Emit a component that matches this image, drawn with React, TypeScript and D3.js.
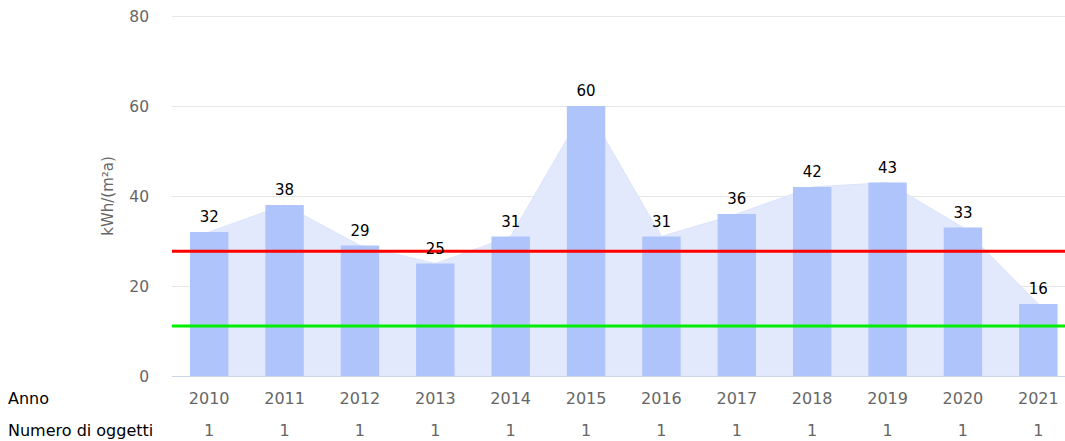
import React, { useEffect, useRef } from 'react';
import * as d3 from 'd3';

const years = ['2010', '2011', '2012', '2013', '2014', '2015', '2016', '2017', '2018', '2019', '2020', '2021'];
const values = [32, 38, 29, 25, 31, 60, 31, 36, 42, 43, 33, 16];
const objectCounts = [1, 1, 1, 1, 1, 1, 1, 1, 1, 1, 1, 1];
const yTicks = [0, 20, 40, 60, 80];
const redLimit = 27.7;
const greenLimit = 11.1;

const App: React.FC = () => {
  const svgRef = useRef<SVGSVGElement | null>(null);

  useEffect(() => {
    const svg = d3.select(svgRef.current);
    svg.selectAll('*').remove();

    const width = 1065;
    const height = 441;
    const plotLeft = 172;
    const plotRight = 1076; // plot runs slightly past the visible edge
    const font = '"DejaVu Sans", Verdana, sans-serif';

    const x = d3.scaleBand<string>()
      .domain(years)
      .range([171.5, plotRight])
      .paddingInner(0.49)
      .paddingOuter(0.245);

    const y = d3.scaleLinear()
      .domain([0, 80])
      .range([376, 16]);

    const cx = (d: string) => (x(d) || 0) + x.bandwidth() / 2;

    // gridlines
    svg.append('g')
      .selectAll('line')
      .data(yTicks.slice(1))
      .join('line')
      .attr('x1', plotLeft)
      .attr('x2', width)
      .attr('y1', d => y(d) + 0.5)
      .attr('y2', d => y(d) + 0.5)
      .attr('stroke', '#e6e6e6');

    // area behind bars
    const area = d3.area<number>()
      .x((_, i) => cx(years[i]))
      .y0(y(0))
      .y1(d => y(d));

    svg.append('path')
      .datum(values)
      .attr('d', area)
      .attr('fill', '#e3e9fd')
      .attr('stroke', '#dbe3fc')
      .attr('stroke-width', 1);

    // bars
    svg.append('g')
      .selectAll('rect')
      .data(values)
      .join('rect')
      .attr('x', (_, i) => x(years[i]) || 0)
      .attr('y', d => y(d))
      .attr('width', x.bandwidth())
      .attr('height', d => y(0) - y(d))
      .attr('fill', '#b0c4fc');

    // axis line
    svg.append('line')
      .attr('x1', plotLeft)
      .attr('x2', width)
      .attr('y1', y(0) + 0.5)
      .attr('y2', y(0) + 0.5)
      .attr('stroke', '#ccd6eb');

    // limit lines
    [[redLimit, '#ff0000'], [greenLimit, '#00ee00']].forEach(([v, c]) => {
      svg.append('line')
        .attr('x1', plotLeft)
        .attr('x2', width)
        .attr('y1', y(v as number))
        .attr('y2', y(v as number))
        .attr('stroke', c as string)
        .attr('stroke-width', 3);
    });

    // value labels
    svg.append('g')
      .selectAll('text')
      .data(values)
      .join('text')
      .attr('x', (_, i) => cx(years[i]))
      .attr('y', d => y(d) - 10)
      .attr('text-anchor', 'middle')
      .attr('font-family', font)
      .attr('font-size', 15)
      .attr('fill', '#000')
      .text(d => d);

    // y ticks
    svg.append('g')
      .selectAll('text')
      .data(yTicks)
      .join('text')
      .attr('x', 149)
      .attr('y', d => y(d) + 5.5)
      .attr('text-anchor', 'end')
      .attr('font-family', font)
      .attr('font-size', 15.5)
      .attr('fill', '#666')
      .text(d => d);

    // y title
    svg.append('text')
      .attr('transform', `translate(113,${y(40)}) rotate(-90)`)
      .attr('text-anchor', 'middle')
      .attr('font-family', font)
      .attr('font-size', 15)
      .attr('fill', '#666')
      .text('kWh/(m²a)');

    // bottom rows
    const rows: [string, (string | number)[], number][] = [
      ['Anno', years, 404],
      ['Numero di oggetti', objectCounts, 436],
    ];
    rows.forEach(([label, items, ry]) => {
      svg.append('text')
        .attr('x', 8)
        .attr('y', ry)
        .attr('font-family', font)
        .attr('font-size', 16)
        .attr('fill', '#000')
        .text(label);
      svg.append('g')
        .selectAll('text')
        .data(items)
        .join('text')
        .attr('x', (_, i) => cx(years[i]))
        .attr('y', ry)
        .attr('text-anchor', 'middle')
        .attr('font-family', font)
        .attr('font-size', 16)
        .attr('fill', '#666')
        .text(d => d);
    });
  }, []);

  return (
    <svg ref={svgRef} width={1065} height={441} style={{ position: 'absolute', left: 0, top: 0 }}></svg>
  );
};

export default App;
